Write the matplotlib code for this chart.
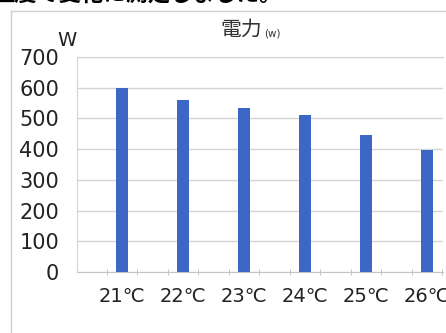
import matplotlib
matplotlib.use('Agg')
import matplotlib.pyplot as plt
from matplotlib.lines import Line2D

plt.rcParams['font.family'] = ['DejaVu Sans', 'Noto Sans CJK JP']

# power draw for each thermostat setting
temps = ['21℃', '22℃', '23℃', '24℃', '25℃', '26℃']
power = [600, 560, 535, 510, 447, 397]
yticks = [0, 100, 200, 300, 400, 500, 600, 700]

W, H = 446, 333
fig = plt.figure(figsize=(W / 100, H / 100), dpi=100)
fig.patch.set_facecolor('white')

# caption line running off the top edge
fig.text(-8 / W, 1 - 6 / H, '温度で変化に測定しました。', fontsize=16, fontweight='bold',
         family=['Noto Sans CJK JP'], ha='left', va='bottom', color='black')

# chart frame
grey = '#cfcfcf'
fig.add_artist(Line2D([11 / W, 11 / W], [0, 1 - 11 / H], color=grey, lw=1))
fig.add_artist(Line2D([11 / W, 1], [1 - 11 / H, 1 - 11 / H], color=grey, lw=1))

ax = fig.add_axes([77 / W, 1 - 272 / H, 366 / W, 215 / H])
x = list(range(len(temps)))
ax.bar(x, power, width=0.2, color='#3d67c6', zorder=3)

ax.set_xlim(-0.74, 5.26)
ax.set_ylim(0, 700)
ax.set_yticks(yticks)
ax.set_yticklabels([str(v) for v in yticks], fontsize=15, color='#222222')
ax.set_xticks(x)
ax.set_xticklabels(temps, fontsize=14, color='#222222')
ax.set_xticks([-0.25 + 0.5 * k for k in range(12)], minor=True)
ax.tick_params(axis='x', which='major', length=0, pad=11)
ax.tick_params(axis='x', which='minor', length=5, direction='inout', color='#bbbbbb')
ax.tick_params(axis='y', length=0, pad=13)

ax.grid(axis='y', color='#d4d4d4', lw=1, zorder=0)
for s in ['left', 'top']:
    ax.spines[s].set_color('#d4d4d4')
ax.spines['right'].set_visible(False)
ax.spines['bottom'].set_color('#c4c4c4')

fig.text(262 / W, 1 - 36 / H, '電力', fontsize=15, ha='right', va='baseline',
         family=['Noto Sans CJK JP'], color='#333333')
fig.text(264 / W, 1 - 36 / H, '(w)', fontsize=7.5, ha='left', va='baseline', color='#333333')
fig.text(67 / W, 1 - 41 / H, 'W', fontsize=14, ha='center', va='center', color='#222222')

fig.savefig('out.png', dpi=100, facecolor='white')
